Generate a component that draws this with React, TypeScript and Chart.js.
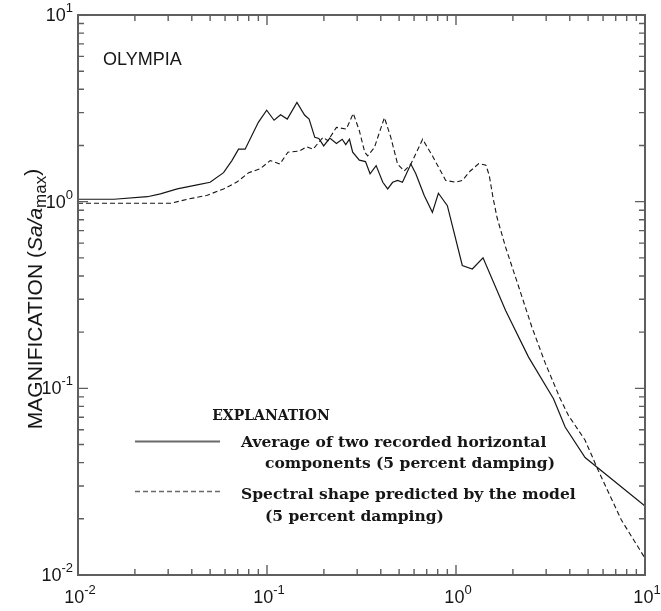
import { useEffect, useRef } from 'react';
import { Chart, registerables } from 'chart.js';

Chart.register(...registerables);

// Spectral magnification vs. period (s), Olympia station
const recordedPeriod = [
  0.01, 0.0155, 0.0233, 0.0273, 0.0335, 0.0427, 0.05, 0.0589, 0.0652, 0.0707,
  0.0766, 0.09, 0.0996, 0.109, 0.118, 0.128, 0.144, 0.158, 0.167, 0.179,
  0.188, 0.1995, 0.215, 0.233, 0.25, 0.261, 0.273, 0.284, 0.308, 0.332,
  0.351, 0.378, 0.41, 0.435, 0.462, 0.491, 0.521, 0.577, 0.613, 0.679,
  0.75, 0.807, 0.9, 1.08, 1.22, 1.39, 1.83, 2.42, 3.28, 3.78, 4.82, 10,
];
const recordedMag = [
  1.03, 1.03, 1.063, 1.1, 1.17, 1.23, 1.27, 1.43, 1.66, 1.91,
  1.91, 2.66, 3.09, 2.73, 2.92, 2.77, 3.4, 2.91, 2.77, 2.21,
  2.18, 1.99, 2.19, 2.05, 2.16, 2.02, 2.16, 1.84, 1.67, 1.64,
  1.41, 1.56, 1.27, 1.17, 1.27, 1.3, 1.27, 1.59, 1.41, 1.08,
  0.877, 1.11, 0.952, 0.455, 0.436, 0.5, 0.261, 0.147, 0.088, 0.062, 0.0426, 0.0234,
];

const modelPeriod = [
  0.01, 0.031, 0.0378, 0.048, 0.0589, 0.069, 0.08, 0.085, 0.092, 0.104,
  0.117, 0.129, 0.149, 0.162, 0.175, 0.198, 0.21, 0.233, 0.263, 0.286,
  0.308, 0.329, 0.341, 0.37, 0.418, 0.452, 0.491, 0.532, 0.577, 0.666,
  0.75, 0.882, 0.996, 1.08, 1.19, 1.32, 1.44, 1.5, 1.57, 1.65,
  1.83, 2.15, 2.52, 2.97, 3.56, 3.93, 4.82, 5.66, 7.5, 10,
];
const modelMag = [
  0.98, 0.98, 1.03, 1.08, 1.17, 1.27, 1.43, 1.46, 1.5, 1.66,
  1.59, 1.84, 1.87, 1.97, 1.91, 2.21, 2.12, 2.5, 2.45, 2.97,
  2.4, 1.84, 1.76, 1.95, 2.82, 2.21, 1.59, 1.46, 1.59, 2.16,
  1.76, 1.3, 1.27, 1.3, 1.46, 1.6, 1.57, 1.38, 1.05, 0.82,
  0.57, 0.348, 0.213, 0.136, 0.088, 0.0717, 0.0527, 0.0363, 0.0197, 0.0123,
];

const decadeExponents = [-2, -1, 0, 1];
const minorMultipliers = [2, 3, 4, 5, 6, 7, 8, 9];

const siteName = 'OLYMPIA';
const legendTitle = 'EXPLANATION';
const legendRecorded = ['Average of two recorded horizontal', 'components (5 percent damping)'];
const legendModel = ['Spectral shape predicted by the model', '(5 percent damping)'];

const AXIS_COLOR = '#5e5e5e';
const INK = '#161616';
const SANS = '"Liberation Sans", Arial, sans-serif';
const SERIF = '"DejaVu Serif", serif';

type Seg = { text: string; font: string; dy?: number };

function drawSegments(ctx: CanvasRenderingContext2D, segs: Seg[], x: number, y: number, align: 'left' | 'center' | 'right') {
  let total = 0;
  for (const s of segs) {
    ctx.font = s.font;
    total += ctx.measureText(s.text).width;
  }
  let cx = align === 'left' ? x : align === 'center' ? x - total / 2 : x - total;
  ctx.textAlign = 'left';
  ctx.textBaseline = 'alphabetic';
  for (const s of segs) {
    ctx.font = s.font;
    ctx.fillText(s.text, cx, y + (s.dy || 0));
    cx += ctx.measureText(s.text).width;
  }
}

function powerLabel(exp: number): Seg[] {
  return [
    { text: '10', font: `18px ${SANS}` },
    { text: exp < 0 ? '-' + Math.abs(exp) : String(exp), font: `13px ${SANS}`, dy: -9 },
  ];
}

const framePlugin = {
  id: 'frameAndLabels',
  afterDraw(chart: any) {
    const { ctx, chartArea: a } = chart;
    const xs = chart.scales.x;
    const ys = chart.scales.y;
    ctx.save();

    // frame
    ctx.strokeStyle = AXIS_COLOR;
    ctx.lineWidth = 2;
    ctx.strokeRect(a.left, a.top, a.right - a.left, a.bottom - a.top);

    // inward ticks on all four sides
    ctx.lineWidth = 1.4;
    const majorLen = 10;
    const minorLen = 6;
    ctx.beginPath();
    for (const e of decadeExponents) {
      const values: [number, number][] = [[Math.pow(10, e), majorLen]];
      if (e < decadeExponents[decadeExponents.length - 1]) {
        for (const m of minorMultipliers) values.push([m * Math.pow(10, e), minorLen]);
      }
      for (const [v, len] of values) {
        const px = xs.getPixelForValue(v);
        ctx.moveTo(px, a.bottom);
        ctx.lineTo(px, a.bottom - len);
        ctx.moveTo(px, a.top);
        ctx.lineTo(px, a.top + len);
        const py = ys.getPixelForValue(v);
        ctx.moveTo(a.left, py);
        ctx.lineTo(a.left + len, py);
        ctx.moveTo(a.right, py);
        ctx.lineTo(a.right - len, py);
      }
    }
    ctx.stroke();

    // tick labels
    ctx.fillStyle = INK;
    for (const e of decadeExponents) {
      const v = Math.pow(10, e);
      drawSegments(ctx, powerLabel(e), xs.getPixelForValue(v) + 2, a.bottom + 28, 'center');
      drawSegments(ctx, powerLabel(e), a.left - 5, ys.getPixelForValue(v) + 6, 'right');
    }

    // y-axis title
    ctx.save();
    ctx.translate(42, 299);
    ctx.rotate(-Math.PI / 2);
    drawSegments(
      ctx,
      [
        { text: 'MAGNIFICATION (', font: `21px ${SANS}` },
        { text: 'Sa', font: `italic 21px ${SANS}` },
        { text: '/', font: `italic 21px ${SANS}` },
        { text: 'a', font: `italic 21px ${SANS}` },
        { text: 'max', font: `17px ${SANS}`, dy: 4 },
        { text: ')', font: `21px ${SANS}`, dy: -3 },
      ],
      0,
      0,
      'center'
    );
    ctx.restore();

    // site name
    ctx.font = `18px ${SANS}`;
    ctx.textAlign = 'left';
    ctx.fillText(siteName, 103, 65);

    // explanation block
    ctx.font = `bold 14px ${SERIF}`;
    ctx.textAlign = 'center';
    ctx.fillText(legendTitle, 271, 420);

    ctx.textAlign = 'left';
    ctx.font = `bold 15.5px ${SERIF}`;
    ctx.fillText(legendRecorded[0], 241, 447);
    ctx.fillText(legendRecorded[1], 265, 468);
    ctx.fillText(legendModel[0], 241, 499);
    ctx.fillText(legendModel[1], 265, 521);

    ctx.strokeStyle = '#6a6a6a';
    ctx.lineWidth = 2;
    ctx.beginPath();
    ctx.moveTo(135, 441.5);
    ctx.lineTo(220, 441.5);
    ctx.stroke();
    ctx.lineWidth = 1.3;
    ctx.setLineDash([5, 3]);
    ctx.beginPath();
    ctx.moveTo(135, 491.5);
    ctx.lineTo(220, 491.5);
    ctx.stroke();
    ctx.setLineDash([]);

    ctx.restore();
  },
};

export default function App() {
  const canvasRef = useRef<HTMLCanvasElement | null>(null);

  useEffect(() => {
    const canvas = canvasRef.current;
    if (!canvas) return;
    const chart = new Chart(canvas, {
      type: 'line',
      data: {
        datasets: [
          {
            label: 'Recorded',
            data: recordedPeriod.map((p, i) => ({ x: p, y: recordedMag[i] })),
            borderColor: INK,
            borderWidth: 1.2,
            pointRadius: 0,
            tension: 0,
            fill: false,
          },
          {
            label: 'Model',
            data: modelPeriod.map((p, i) => ({ x: p, y: modelMag[i] })),
            borderColor: INK,
            borderWidth: 1.1,
            borderDash: [5, 3],
            pointRadius: 0,
            tension: 0,
            fill: false,
          },
        ],
      },
      options: {
        animation: false,
        responsive: false,
        devicePixelRatio: 1,
        layout: { padding: { left: 78, top: 15, right: 16, bottom: 36 } },
        plugins: { legend: { display: false }, tooltip: { enabled: false } },
        scales: {
          x: { type: 'logarithmic', min: 0.01, max: 10, display: false },
          y: { type: 'logarithmic', min: 0.01, max: 10, display: false },
        },
      },
      plugins: [framePlugin],
    });
    return () => chart.destroy();
  }, []);

  return (
    <div style={{ position: 'absolute', left: 0, top: 0, width: 661, height: 611, background: '#fff' }}>
      <canvas ref={canvasRef} width={661} height={611} />
    </div>
  );
}
